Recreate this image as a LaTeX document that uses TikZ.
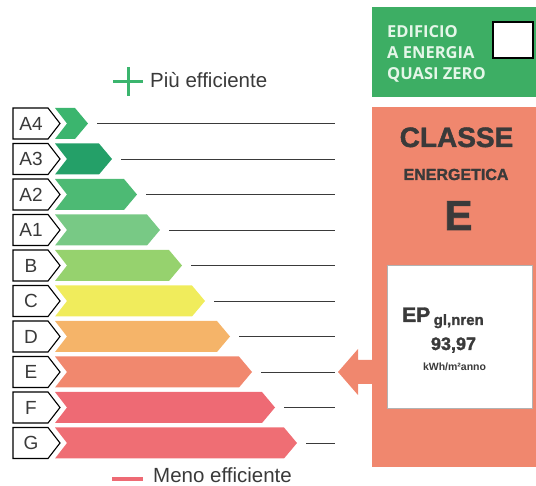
\documentclass[tikz,border=0pt]{standalone}
\usepackage{fontspec}
\setmainfont{Liberation Sans}
\newfontfamily\nzebfont{Open Sans}
\newfontfamily\heavyfont[FakeBold=1.6]{Liberation Sans Bold}
\definecolor{cAfour}{HTML}{3BB56E}
\definecolor{cAthree}{HTML}{24A068}
\definecolor{cAtwo}{HTML}{4DBA74}
\definecolor{cAone}{HTML}{78C985}
\definecolor{cB}{HTML}{96D26E}
\definecolor{cC}{HTML}{F0EC5C}
\definecolor{cD}{HTML}{F5B469}
\definecolor{cE}{HTML}{F1886E}
\definecolor{cF}{HTML}{EE6A74}
\definecolor{cG}{HTML}{EF6E74}
\definecolor{boxgreen}{HTML}{3DAE64}
\definecolor{boxsalmon}{HTML}{F0876E}
\definecolor{mint}{HTML}{E4F6E8}
\definecolor{inkgray}{HTML}{3A3A3A}
\tikzset{
  labelbox/.style={draw=black, line width=1.1pt, fill=white, line join=miter},
  labeltext/.style={font=\fontsize{19}{19}\selectfont, text=inkgray, inner sep=0pt},
  scaleline/.style={draw=inkgray, line width=0.9pt},
}
\begin{document}
\begin{tikzpicture}[x=1pt,y=-1pt]
		\useasboundingbox (0,0) rectangle (536,486);
		% top legend
		\fill[cAfour] (113,80.5) rectangle (143,83.5);
		\fill[cAfour] (126.5,67) rectangle (129.5,96);
		\node[anchor=base west, inner sep=0pt, text=inkgray, font=\fontsize{20.5}{20.5}\selectfont] (piu) at (150,88) {Più efficiente};
		% scale labels
		\draw[labelbox] (13,108) -- (48,108) -- (60,123.5) -- (48,139) -- (13,139) -- cycle;
		\draw[labelbox] (13,143.5) -- (48,143.5) -- (60,159) -- (48,174.5) -- (13,174.5) -- cycle;
		\draw[labelbox] (13,179) -- (48,179) -- (60,194.5) -- (48,210) -- (13,210) -- cycle;
		\draw[labelbox] (13,214.5) -- (48,214.5) -- (60,230) -- (48,245.5) -- (13,245.5) -- cycle;
		\draw[labelbox] (13,250) -- (48,250) -- (60,265.5) -- (48,281) -- (13,281) -- cycle;
		\draw[labelbox] (13,285.5) -- (48,285.5) -- (60,301) -- (48,316.5) -- (13,316.5) -- cycle;
		\draw[labelbox] (13,321) -- (48,321) -- (60,336.5) -- (48,352) -- (13,352) -- cycle;
		\draw[labelbox] (13,356.5) -- (48,356.5) -- (60,372) -- (48,387.5) -- (13,387.5) -- cycle;
		\draw[labelbox] (13,392) -- (48,392) -- (60,407.5) -- (48,423) -- (13,423) -- cycle;
		\draw[labelbox] (13,427.5) -- (48,427.5) -- (60,443) -- (48,458.5) -- (13,458.5) -- cycle;
		\node[labeltext] (lAfour) at (31,123.5) {A4};
		\node[labeltext] (lAthree) at (31,159) {A3};
		\node[labeltext] (lAtwo) at (31,194.5) {A2};
		\node[labeltext] (lAone) at (31,230) {A1};
		\node[labeltext] (lB) at (31,265.5) {B};
		\node[labeltext] (lC) at (31,301) {C};
		\node[labeltext] (lD) at (31,336.5) {D};
		\node[labeltext] (lE) at (31,372) {E};
		\node[labeltext] (lF) at (31,407.5) {F};
		\node[labeltext] (lG) at (31,443) {G};
		% coloured bars
		\fill[cAfour] (55,108) -- (75,108) -- (88,123.5) -- (75,139) -- (55,139) -- (67,123.5) -- cycle;
		\fill[cAthree] (55,143.5) -- (99,143.5) -- (112,159) -- (99,174.5) -- (55,174.5) -- (67,159) -- cycle;
		\fill[cAtwo] (55,179) -- (124,179) -- (137,194.5) -- (124,210) -- (55,210) -- (67,194.5) -- cycle;
		\fill[cAone] (55,214.5) -- (147,214.5) -- (160,230) -- (147,245.5) -- (55,245.5) -- (67,230) -- cycle;
		\fill[cB] (55,250) -- (169,250) -- (182,265.5) -- (169,281) -- (55,281) -- (67,265.5) -- cycle;
		\fill[cC] (55,285.5) -- (192,285.5) -- (205,301) -- (192,316.5) -- (55,316.5) -- (67,301) -- cycle;
		\fill[cD] (55,321) -- (217,321) -- (230,336.5) -- (217,352) -- (55,352) -- (67,336.5) -- cycle;
		\fill[cE] (55,356.5) -- (239,356.5) -- (252,372) -- (239,387.5) -- (55,387.5) -- (67,372) -- cycle;
		\fill[cF] (55,392) -- (262,392) -- (275,407.5) -- (262,423) -- (55,423) -- (67,407.5) -- cycle;
		\fill[cG] (55,427.5) -- (284,427.5) -- (297,443) -- (284,458.5) -- (55,458.5) -- (67,443) -- cycle;
		% lines
		\draw[scaleline] (97,123.5) -- (335,123.5);
		\draw[scaleline] (121,159) -- (335,159);
		\draw[scaleline] (146,194.5) -- (335,194.5);
		\draw[scaleline] (169,230) -- (335,230);
		\draw[scaleline] (191,265.5) -- (335,265.5);
		\draw[scaleline] (214,301) -- (335,301);
		\draw[scaleline] (239,336.5) -- (335,336.5);
		\draw[scaleline] (261,372) -- (335,372);
		\draw[scaleline] (284,407.5) -- (335,407.5);
		\draw[scaleline] (306,443) -- (335,443);
		% bottom legend
		\fill[cF] (112,477) rectangle (143,481);
		\node[anchor=base west, inner sep=0pt, text=inkgray, font=\fontsize{20.5}{20.5}\selectfont] (meno) at (153,482.5) {Meno efficiente};
		% nZEB box
		\fill[boxgreen] (372,7) rectangle (536,97);
		\draw[fill=white, line width=1.3pt] (493,22) rectangle (533,58);
		\node[anchor=base west, inner sep=0pt, text=mint, font=\nzebfont\bfseries\fontsize{16.5}{16.5}\selectfont] (edif) at (387,38) {EDIFICIO};
		\node[anchor=base west, inner sep=0pt, text=mint, font=\nzebfont\bfseries\fontsize{16.5}{16.5}\selectfont] (aen) at (387,59) {A ENERGIA};
		\node[anchor=base west, inner sep=0pt, text=mint, font=\nzebfont\bfseries\fontsize{16.5}{16.5}\selectfont] (quasi) at (387,80) {QUASI ZERO};
		% class box and arrow
		\fill[boxsalmon] (372,107) rectangle (536,467);
		\fill[boxsalmon] (373,360) -- (358,360) -- (358,349) -- (338,372) -- (358,395) -- (358,384) -- (373,384) -- cycle;
		\node[anchor=base, inner sep=0pt, text=inkgray, font=\heavyfont\fontsize{28}{28}\selectfont] (classe) at (456.5,147) {CLASSE};
		\node[anchor=base, inner sep=0pt, text=inkgray, font=\heavyfont\fontsize{16}{16}\selectfont] (energ) at (456,180) {ENERGETICA};
		\node[anchor=base, inner sep=0pt, text=inkgray, font=\heavyfont\fontsize{42}{42}\selectfont] (cls) at (458.5,230) {E};
		\draw[fill=white, draw=gray!60, line width=0.4pt] (387,265) rectangle (532,408);
		\node[anchor=base west, inner sep=0pt, text=inkgray, font=\heavyfont\fontsize{21}{21}\selectfont] (ep) at (402,322) {EP\,\raisebox{-3pt}{\fontsize{15}{15}\selectfont gl,nren}};
		\node[anchor=base, inner sep=0pt, text=inkgray, font=\heavyfont\fontsize{18}{18}\selectfont] (val) at (453.5,350) {93,97};
		\node[anchor=base, inner sep=0pt, text=inkgray, font=\bfseries\fontsize{10.5}{10.5}\selectfont] (unit) at (454.5,371) {kWh/m²anno};
	\end{tikzpicture}
\end{document}
